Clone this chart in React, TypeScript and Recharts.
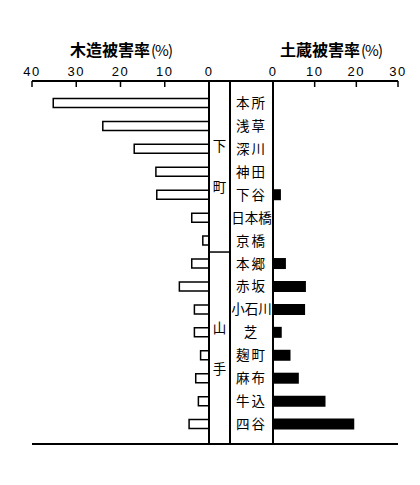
import React from 'react';
import { BarChart, Bar, XAxis, YAxis, ReferenceLine } from 'recharts';

// ---- data ----
const districts = ['本所', '浅草', '深川', '神田', '下谷', '日本橋', '京橋', '本郷', '赤坂', '小石川', '芝', '麹町', '麻布', '牛込', '四谷'];
const woodenRate = [35.2, 24.0, 16.9, 12.0, 11.8, 3.9, 1.4, 3.9, 6.7, 3.3, 3.3, 1.9, 3.0, 2.4, 4.5];
const storehouseRate = [0, 0, 0, 0, 1.9, 0, 0, 3.1, 7.9, 7.7, 2.1, 4.2, 6.2, 12.6, 19.5];
const groupNames = ['下町', '山手'];
const groupSizes = [7, 8];
const woodenTicks = [0, 10, 20, 30, 40];
const storehouseTicks = [0, 10, 20, 30];
const woodenTitle = '木造被害率';
const storehouseTitle = '土蔵被害率';
const unitLabel = '(%)';

const data = districts.map((name, i) => ({ name, wooden: woodenRate[i], storehouse: storehouseRate[i] }));

// ---- layout ----
const W = 420;
const H = 485;
const AXIS_Y = 81;
const BOTTOM_Y = 444;
const TOP_AXIS_H = 30;
const BOT_AXIS_H = 1;
const X_LEFT_END = 32;
const X_ZERO_L = 209;
const X_MID = 230;
const X_ZERO_R = 273;
const X_RIGHT_END = 398;
const PAD_TOP = 10.5;
const PAD_BOTTOM = 8.5;
const BAND = (BOTTOM_Y - AXIS_Y - PAD_TOP - PAD_BOTTOM) / districts.length;
const NAME_X = (X_MID + X_ZERO_R) / 2;
const GROUP_X = (X_ZERO_L + X_MID) / 2;
const GROUP_CHAR_GAP = 41;

const pxPerUnitL = (X_ZERO_L - X_LEFT_END) / 40;
const leftDomainMin = -(X_ZERO_R - X_ZERO_L) / pxPerUnitL;
const midLineValue = -(X_MID - X_ZERO_L) / pxPerUnitL;

const margin = { top: AXIS_Y - TOP_AXIS_H, bottom: H - BOTTOM_Y - BOT_AXIS_H };
const numFont = '"Liberation Sans", Arial, sans-serif';
const cjkFont = '"Noto Sans CJK JP", "Noto Sans CJK SC", sans-serif';

const XTick = (props: any) => {
  const { x, payload } = props;
  return (
    <g>
      <text x={x} y={AXIS_Y - 5} textAnchor="middle" fontFamily={numFont} fontSize={13} letterSpacing={1.5} style={{ fill: '#000' }}>
        {payload.value}
      </text>
      {payload.value !== 0 && <line x1={x} x2={x} y1={AXIS_Y} y2={AXIS_Y + 6} stroke="#000" strokeWidth={1.5} />}
    </g>
  );
};

const groupStarts = groupSizes.map((_, gi) => groupSizes.slice(0, gi).reduce((a, b) => a + b, 0));

const NameTick = (props: any) => {
  const { y, payload } = props;
  const index = payload.index;
  const name = String(payload.value);
  const gi = groupStarts.indexOf(index);
  const els: any[] = [];
  els.push(
    <text key="n" x={NAME_X} y={y} dy={5} textAnchor="middle" fontFamily={cjkFont} fontSize={13.5}
      letterSpacing={name.length <= 2 ? 2 : 0} style={{ fill: '#000' }}>
      {name}
    </text>
  );
  if (gi >= 0) {
    const top = gi === 0 ? AXIS_Y : y - BAND / 2;
    const bottom = gi === groupSizes.length - 1 ? BOTTOM_Y : y + (groupSizes[gi] - 0.5) * BAND;
    const center = (top + bottom) / 2;
    const chars = groupNames[gi].split('');
    chars.forEach((c, ci) => {
      const cy = center + (ci - (chars.length - 1) / 2) * GROUP_CHAR_GAP;
      els.push(
        <text key={'g' + ci} x={GROUP_X} y={cy} dy={5} textAnchor="middle" fontFamily={cjkFont} fontSize={13.5} style={{ fill: '#000' }}>
          {c}
        </text>
      );
    });
    if (index > 0) {
      els.push(<line key="sep" x1={X_ZERO_L} x2={X_MID} y1={y - BAND / 2} y2={y - BAND / 2} stroke="#000" strokeWidth={1.5} />);
    }
  }
  return <g>{els}</g>;
};

const titleStyle: React.CSSProperties = {
  position: 'absolute',
  top: 39,
  transform: 'translateX(-50%)',
  whiteSpace: 'nowrap',
  fontFamily: cjkFont,
  fontSize: 16,
  fontWeight: 700,
  lineHeight: '20px',
  color: '#000',
};

const unitStyle: React.CSSProperties = { fontWeight: 400, fontSize: 15, letterSpacing: -1, marginLeft: 1 };

export default function App() {
  return (
    <div style={{ position: 'absolute', left: 0, top: 0, width: W, height: H, background: '#fff', overflow: 'hidden' }}>
      <div style={{ position: 'absolute', left: 0, top: 0 }}>
        <BarChart width={W} height={H} data={data} layout="vertical"
          margin={{ top: margin.top, bottom: margin.bottom, left: X_LEFT_END, right: W - X_ZERO_R }}>
          <XAxis xAxisId="t" type="number" orientation="top" reversed domain={[leftDomainMin, 40]} allowDataOverflow
            ticks={woodenTicks} height={TOP_AXIS_H} tickLine={false} tick={<XTick />} interval={0}
            axisLine={{ stroke: '#000', strokeWidth: 2 }} />
          <XAxis xAxisId="b" type="number" orientation="bottom" reversed domain={[leftDomainMin, 40]} allowDataOverflow
            height={BOT_AXIS_H} tick={false} tickLine={false} axisLine={{ stroke: '#000', strokeWidth: 2 }} />
          <YAxis type="category" dataKey="name" hide padding={{ top: PAD_TOP, bottom: PAD_BOTTOM }} />
          <ReferenceLine xAxisId="t" x={0} stroke="#000" strokeWidth={2} />
          <ReferenceLine xAxisId="t" x={midLineValue} stroke="#000" strokeWidth={2} />
          <Bar xAxisId="t" dataKey="wooden" fill="#fff" stroke="#000" strokeWidth={1.5} barSize={9} isAnimationActive={false} />
        </BarChart>
      </div>
      <div style={{ position: 'absolute', left: 0, top: 0 }}>
        <BarChart width={W} height={H} data={data} layout="vertical"
          margin={{ top: margin.top, bottom: margin.bottom, left: X_MID, right: W - X_RIGHT_END }}>
          <XAxis xAxisId="t" type="number" orientation="top" domain={[0, 30]} allowDataOverflow
            ticks={storehouseTicks} height={TOP_AXIS_H} tickLine={false} tick={<XTick />} interval={0}
            axisLine={{ stroke: '#000', strokeWidth: 2 }} />
          <XAxis xAxisId="b" type="number" orientation="bottom" domain={[0, 30]} allowDataOverflow
            height={BOT_AXIS_H} tick={false} tickLine={false} axisLine={{ stroke: '#000', strokeWidth: 2 }} />
          <YAxis type="category" dataKey="name" orientation="left" width={X_ZERO_R - X_MID}
            padding={{ top: PAD_TOP, bottom: PAD_BOTTOM }} tickLine={false} tick={<NameTick />} interval={0}
            axisLine={{ stroke: '#000', strokeWidth: 2 }} />
          <Bar xAxisId="t" dataKey="storehouse" fill="#000" barSize={11} isAnimationActive={false} />
        </BarChart>
      </div>
      <div style={{ ...titleStyle, left: 121 }}>
        {woodenTitle}<span style={unitStyle}>{unitLabel}</span>
      </div>
      <div style={{ ...titleStyle, left: 331 }}>
        {storehouseTitle}<span style={unitStyle}>{unitLabel}</span>
      </div>
    </div>
  );
}
